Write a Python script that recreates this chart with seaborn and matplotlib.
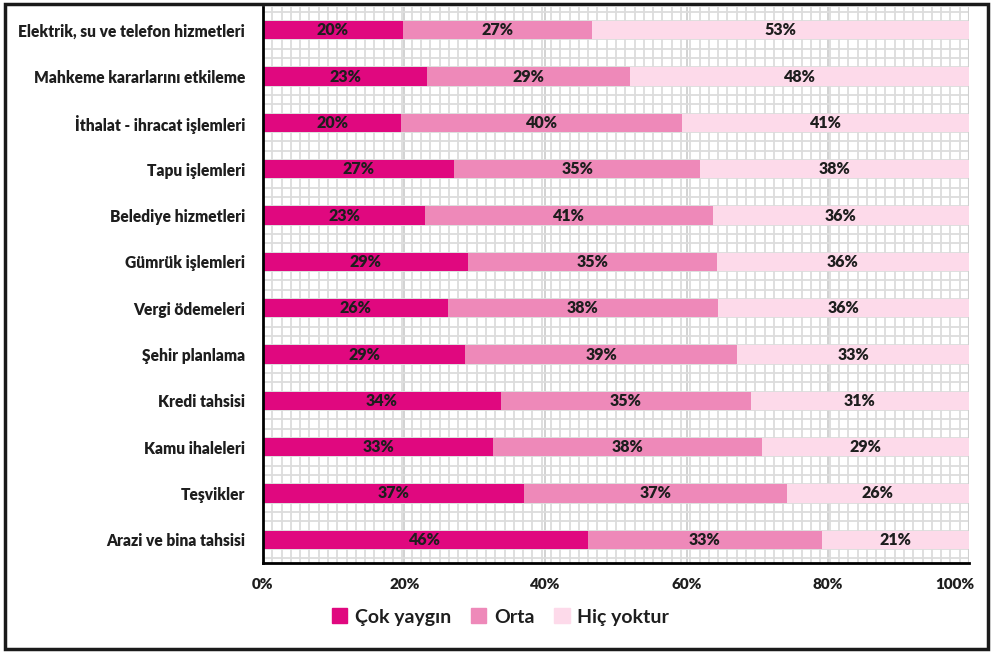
import numpy as np
import pandas as pd
import matplotlib
matplotlib.use("Agg")
import matplotlib.pyplot as plt
import matplotlib.patches as mpatches
import matplotlib.transforms as mtransforms
import seaborn as sns

categories = [
    "Elektrik, su ve telefon hizmetleri",
    "Mahkeme kararlarını etkileme",
    "İthalat - ihracat işlemleri",
    "Tapu işlemleri",
    "Belediye hizmetleri",
    "Gümrük işlemleri",
    "Vergi ödemeleri",
    "Şehir planlama",
    "Kredi tahsisi",
    "Kamu ihaleleri",
    "Teşvikler",
    "Arazi ve bina tahsisi",
]
cok_yaygin = [19.8, 23.3, 19.6, 27.1, 23.0, 29.0, 26.2, 28.6, 33.7, 32.6, 36.9, 46.0]
orta =       [26.8, 28.7, 39.8, 34.8, 40.7, 35.3, 38.2, 38.6, 35.4, 38.1, 37.3, 33.2]
hic_yoktur = [53.4, 48.0, 40.6, 38.1, 36.3, 35.7, 35.6, 32.8, 30.9, 29.3, 25.8, 20.8]
series_names = ["Çok yaygın", "Orta", "Hiç yoktur"]
x_ticks = [0, 20, 40, 60, 80, 100]
x_tick_labels = ["0%", "20%", "40%", "60%", "80%", "100%"]

colors = ["#E0087F", "#EE89B9", "#FDDAEA"]

sns.set_theme(style="white")
plt.rcParams["font.family"] = ["Lato", "DejaVu Sans"]

df = pd.DataFrame({"cat": categories, "a": cok_yaygin, "b": orta, "c": hic_yoktur})
df["cum1"] = df["a"]
df["cum2"] = df["a"] + df["b"]
df["cum3"] = df["a"] + df["b"] + df["c"]

fig = plt.figure(figsize=(9.91, 6.54), dpi=100)
ax = fig.add_axes([263 / 991, 1 - 563 / 654, 706 / 991, 556 / 654])

# background pattern grid
step_x = 100 / 76
for xv in np.arange(0, 100 + 1e-6, step_x):
    ax.axvline(xv, color="#dcdcdc", lw=1.3, zorder=0)
for xv in x_ticks[1:-1]:
    ax.axvline(xv, color="#d2d2d2", lw=1.4, zorder=0)
for yv in np.arange(-0.4, 11.5, 0.2):
    ax.axhline(yv, color="#dcdcdc", lw=1.3, zorder=0)
ax.axvline(100, color="#cfcfcf", lw=1.5, zorder=0)

for col, c in zip(["cum3", "cum2", "cum1"], colors[::-1]):
    sns.barplot(data=df, x=col, y="cat", orient="h", color=c, width=0.4,
                saturation=1, ax=ax, zorder=2, edgecolor="none")

ax.set_xlim(0, 100)
ax.set_ylim(11.5, -0.5)

for i in range(len(categories)):
    vals = [cok_yaygin[i], orta[i], hic_yoktur[i]]
    start = 0
    for v in vals:
        ax.text(start + v / 2, i, f"{v:.0f}%", ha="center", va="center",
                fontsize=11.5, fontweight="heavy", color="#1e1e1e", zorder=3)
        start += v

ax.set_xlabel("")
ax.set_ylabel("")
ax.set_xticks(x_ticks)
ax.set_xticklabels(x_tick_labels, fontsize=11, fontweight="heavy", color="#1e1e1e")
ax.tick_params(axis="x", length=0, pad=11)
ax.tick_params(axis="y", length=0, pad=13)
for lab in ax.get_yticklabels():
    lab.set_fontsize(11.2)
    lab.set_fontweight("heavy")
    lab.set_color("#1e1e1e")

last = ax.get_xticklabels()[-1]
last.set_transform(last.get_transform() + mtransforms.ScaledTranslation(-14 / 100, 0, fig.dpi_scale_trans))

for s in ["top", "right"]:
    ax.spines[s].set_visible(False)
for s in ["left", "bottom"]:
    ax.spines[s].set_visible(True)
    ax.spines[s].set_color("black")
    ax.spines[s].set_linewidth(2)

handles = [mpatches.Patch(color=c, label=n) for c, n in zip(colors, series_names)]
fig.legend(handles=handles, loc="center", bbox_to_anchor=(0.505, 1 - 617 / 654),
           ncol=3, frameon=False, handlelength=0.8, handleheight=0.8,
           handletextpad=0.4, columnspacing=1.0, labelcolor="#1e1e1e",
           prop={"size": 14, "weight": "bold"})

border = mpatches.Rectangle((5 / 991, 5 / 654), 983 / 991, 645 / 654,
                            transform=fig.transFigure, fill=False,
                            edgecolor="#1a1a1a", lw=2.5)
fig.patches.append(border)

fig.savefig("out.png", dpi=100)
